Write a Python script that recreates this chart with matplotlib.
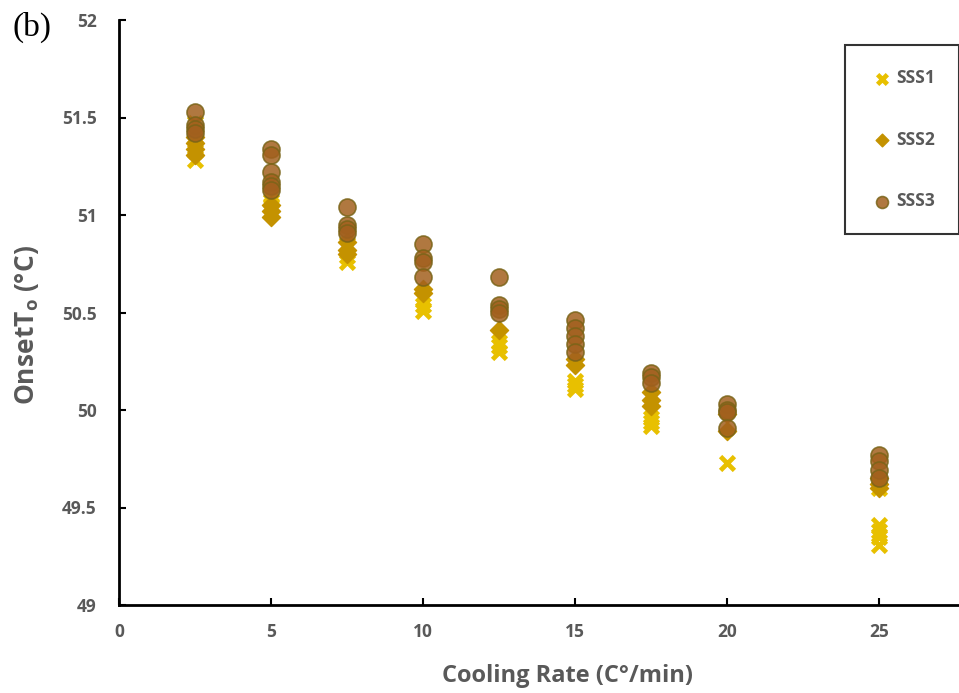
import matplotlib
matplotlib.use("Agg")
import matplotlib.pyplot as plt

cooling_rates = [2.5, 5, 7.5, 10, 12.5, 15, 17.5, 20, 25]

sss1 = {
    2.5: [51.28, 51.33, 51.35, 51.47],
    5: [51.05, 51.07, 51.10],
    7.5: [50.76, 50.79, 50.85],
    10: [50.51, 50.54, 50.57],
    12.5: [50.30, 50.33, 50.35],
    15: [50.11, 50.13, 50.15],
    17.5: [49.92, 49.94, 49.96],
    20: [49.73],
    25: [49.31, 49.35, 49.38, 49.41, 49.60],
}
sss2 = {
    2.5: [51.31, 51.34, 51.37, 51.40],
    5: [50.99, 51.02, 51.05],
    7.5: [50.80, 50.82, 50.86],
    10: [50.60, 50.62],
    12.5: [50.41],
    15: [50.23, 50.26],
    17.5: [50.02, 50.05, 50.09],
    20: [49.89, 49.98],
    25: [49.60, 49.62, 49.65],
}
sss3 = {
    2.5: [51.53, 51.46, 51.44, 51.42],
    5: [51.34, 51.31, 51.22, 51.17, 51.15, 51.13],
    7.5: [51.04, 50.95, 50.93, 50.91],
    10: [50.85, 50.78, 50.76, 50.68],
    12.5: [50.68, 50.54, 50.52, 50.50],
    15: [50.46, 50.42, 50.38, 50.34, 50.30],
    17.5: [50.19, 50.17, 50.14],
    20: [50.03, 50.00, 49.99, 49.91],
    25: [49.77, 49.74, 49.69, 49.65],
}

x_ticks = [0, 5, 10, 15, 20, 25]
y_ticks = [49, 49.5, 50, 50.5, 51, 51.5, 52]
y_tick_labels = ["49", "49.5", "50", "50.5", "51", "51.5", "52"]

def flat(d):
    xs, ys = [], []
    for k in cooling_rates:
        for v in d[k]:
            xs.append(k)
            ys.append(v)
    return xs, ys

fig = plt.figure(figsize=(9.59, 6.93), dpi=100)
ax = fig.add_axes([119/959, 88/693, 840/959, 585/693])

gray = "#595959"
x1, y1 = flat(sss1)
x2, y2 = flat(sss2)
x3, y3 = flat(sss3)
ax.scatter(x1, y1, marker="x", s=100, linewidths=3.4, color="#E8C000", label="SSS1", zorder=3)
ax.scatter(x2, y2, marker="D", s=85, color="#C49200", edgecolors="#C49200", label="SSS2", zorder=4)
ax.scatter(x3, y3, marker="o", s=150, facecolors="#A2601E", edgecolors="#7A6418",
           linewidths=1.2, alpha=0.85, label="SSS3", zorder=5)

ax.set_xlim(0, 27.63)
ax.set_ylim(49, 52)
ax.set_xticks(x_ticks)
ax.set_yticks(y_ticks)
ax.set_yticklabels(y_tick_labels)

for s in ["top", "right"]:
    ax.spines[s].set_visible(False)
for s in ["left", "bottom"]:
    ax.spines[s].set_linewidth(2)
    ax.spines[s].set_color("black")

ax.tick_params(direction="in", length=5, width=1.5, colors="black",
               labelcolor=gray, labelsize=12.5)
ax.tick_params(axis="x", pad=13)
ax.tick_params(axis="y", pad=16)
for lab in ax.get_xticklabels() + ax.get_yticklabels():
    lab.set_fontfamily("Open Sans")
    lab.set_fontweight("bold")

ax.set_xlabel("Cooling Rate (C°/min)", fontsize=17, fontweight="bold", color=gray,
              fontfamily="Open Sans")
ax.set_ylabel("OnsetT$_\\mathregular{o}$ (°C)", fontsize=19, fontweight="bold", color=gray,
              fontfamily="Open Sans")
ax.xaxis.set_label_coords((568 - 119) / 840, -(676 - 605) / 585)
ax.yaxis.set_label_coords(-(119 - 27) / 840, (605 - 325) / 585)
ax.xaxis.label.set_va("center")
ax.yaxis.label.set_va("center")

fig.text(12/959, 1 - 27/693, "(b)", fontsize=24, fontfamily="Liberation Serif",
         color="black", va="center", ha="left")

leg = ax.legend(loc="upper right", bbox_to_anchor=(1.0, (605 - 45) / 585),
                frameon=True, fancybox=False, borderaxespad=0, labelspacing=2.5,
                borderpad=1.4, handletextpad=0.05, handlelength=1.5,
                prop={"family": "Open Sans", "weight": "bold", "size": 12.5},
                markerscale=0.7)
leg.get_frame().set_edgecolor("black")
leg.get_frame().set_linewidth(1.5)
for t in leg.get_texts():
    t.set_color(gray)

fig.savefig("out.png", dpi=100)
